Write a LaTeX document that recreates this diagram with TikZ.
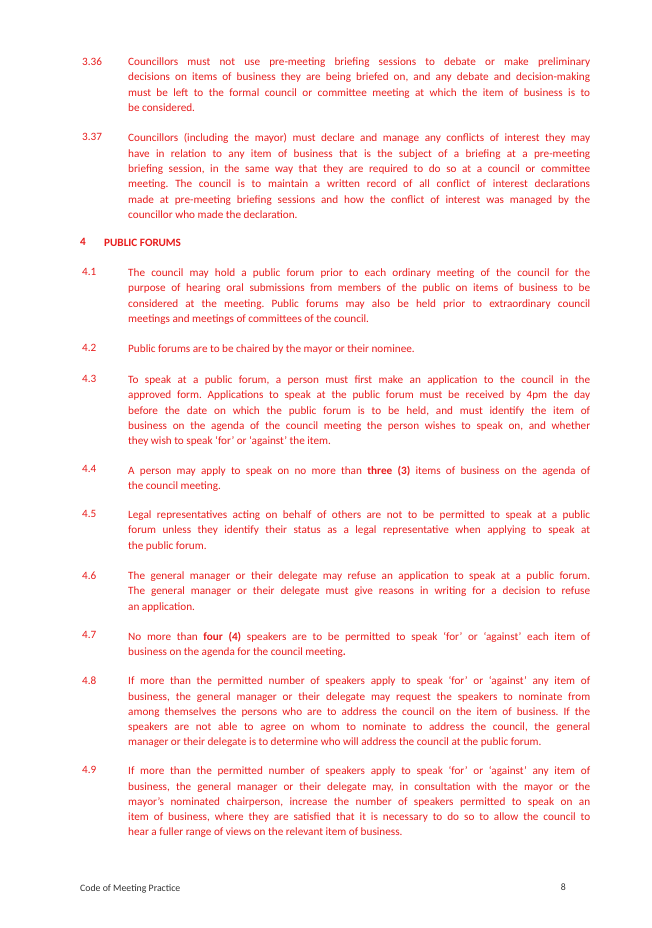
\documentclass[tikz,border=0pt]{standalone}
\usepackage{fontspec}
\setmainfont{Carlito}
\definecolor{txt}{RGB}{232,28,28}
\newcommand{\clause}[3]{\node[num] (n#1) at (82,#2) {#1}; \node[para] (p#1) at (128,#2) {#3};}
\begin{document}
\frenchspacing
\begin{tikzpicture}[x=1pt,y=-1pt,
  para/.style={anchor=north west,inner sep=0pt,text width=462pt,align=justify,font=\fontsize{11.2}{15.3}\selectfont\frenchspacing,text=txt},
  num/.style={anchor=north west,inner sep=0pt,font=\fontsize{11.2}{15.3}\selectfont,text=txt}]
\useasboundingbox[fill=white] (0,0) rectangle (651,928);
\clause{3.36}{57.5}{Councillors must not use pre-meeting briefing sessions to debate or make preliminary\linebreak decisions on items of business they are being briefed on, and any debate and decision-making\linebreak must be left to the formal council or committee meeting at which the item of business is to\linebreak be considered.}
\clause{3.37}{133.5}{Councillors (including the mayor) must declare and manage any conflicts of interest they may\linebreak have in relation to any item of business that is the subject of a briefing at a pre-meeting\linebreak briefing session, in the same way that they are required to do so at a council or committee\linebreak meeting. The council is to maintain a written record of all conflict of interest declarations\linebreak made at pre-meeting briefing sessions and how the conflict of interest was managed by the\linebreak councillor who made the declaration.}
\node[num,font=\fontsize{11.2}{15.3}\selectfont\bfseries] (h4) at (80,238.5) {4};
\node[num,font=\fontsize{11.2}{15.3}\selectfont\bfseries] (h4t) at (104,238.5) {PUBLIC FORUMS};
\clause{4.1}{268.5}{The council may hold a public forum prior to each ordinary meeting of the council for the\linebreak purpose of hearing oral submissions from members of the public on items of business to be\linebreak considered at the meeting. Public forums may also be held prior to extraordinary council\linebreak meetings and meetings of committees of the council.}
\clause{4.2}{344.5}{Public forums are to be chaired by the mayor or their nominee.}
\clause{4.3}{375.5}{To speak at a public forum, a person must first make an application to the council in the\linebreak approved form. Applications to speak at the public forum must be received by 4pm the day\linebreak before the date on which the public forum is to be held, and must identify the item of\linebreak business on the agenda of the council meeting the person wishes to speak on, and whether\linebreak they wish to speak ‘for’ or ‘against’ the item.}
\clause{4.4}{465.5}{A person may apply to speak on no more than \textbf{three (3)} items of business on the agenda of\linebreak the council meeting.}
\clause{4.5}{510.5}{Legal representatives acting on behalf of others are not to be permitted to speak at a public\linebreak forum unless they identify their status as a legal representative when applying to speak at\linebreak the public forum.}
\clause{4.6}{571.5}{The general manager or their delegate may refuse an application to speak at a public forum.\linebreak The general manager or their delegate must give reasons in writing for a decision to refuse\linebreak an application.}
\clause{4.7}{631.5}{No more than \textbf{four (4)} speakers are to be permitted to speak ‘for’ or ‘against’ each item of\linebreak business on the agenda for the council meeting\textbf{.}}
\clause{4.8}{676.5}{If more than the permitted number of speakers apply to speak ‘for’ or ‘against’ any item of\linebreak business, the general manager or their delegate may request the speakers to nominate from\linebreak among themselves the persons who are to address the council on the item of business. If the\linebreak speakers are not able to agree on whom to nominate to address the council, the general\linebreak manager or their delegate is to determine who will address the council at the public forum.}
\clause{4.9}{766.5}{If more than the permitted number of speakers apply to speak ‘for’ or ‘against’ any item of\linebreak business, the general manager or their delegate may, in consultation with the mayor or the\linebreak mayor’s nominated chairperson, increase the number of speakers permitted to speak on an\linebreak item of business, where they are satisfied that it is necessary to do so to allow the council to\linebreak hear a fuller range of views on the relevant item of business.}
\node[anchor=north west,inner sep=0pt,font=\fontsize{9.8}{12}\selectfont,text=black!80] (foot) at (80,884) {Code of Meeting Practice};
\node[anchor=north east,inner sep=0pt,font=\fontsize{9.8}{12}\selectfont,text=black!80] (pg) at (566,884) {8};
\end{tikzpicture}
\end{document}
